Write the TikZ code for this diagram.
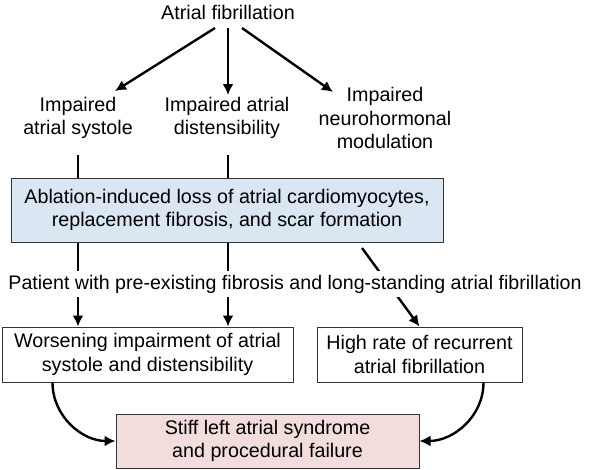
\documentclass[tikz,border=0pt]{standalone}
\usepackage{fontspec}
\setmainfont{Liberation Sans}
\usetikzlibrary{arrows.meta,calc}
\definecolor{ablblue}{HTML}{DAE6F2}
\definecolor{stiffpink}{HTML}{F2DDDC}
\begin{document}
\begin{tikzpicture}[x=1pt,y=-1pt,
  every node/.style={align=center,font=\fontsize{19.7}{23.5}\selectfont},
  box/.style={draw=black!80,line width=1pt,inner sep=0pt},
  arr/.style={line width=2.4pt,-{Latex[length=11pt,width=11pt]}},
  ln/.style={line width=2.4pt},
]
\useasboundingbox (0,0) rectangle (600,469);

\node (af) at (228,12) {Atrial fibrillation};
\node (sys) at (78,118) {Impaired\\atrial systole};
\node (dis) at (227,118) {Impaired atrial\\distensibility};
\node (neu) at (385,118) {Impaired\\neurohormonal\\modulation};

\node[box,fill=ablblue,minimum width=432pt,minimum height=64pt] (abl) at (227,210)
  {Ablation-induced loss of atrial cardiomyocytes,\\replacement fibrosis, and scar formation};
\node[box,minimum width=291pt,minimum height=55pt] (wors) at (147.5,354.5)
  {Worsening impairment of atrial\\systole and distensibility};
\node[box,minimum width=205pt,minimum height=55pt] (high) at (419.5,354.5)
  {High rate of recurrent\\atrial fibrillation};
\node[box,fill=stiffpink,minimum width=303pt,minimum height=54pt] (stiff) at (267.5,441)
  {Stiff left atrial syndrome\\and procedural failure};

% arrows from atrial fibrillation
\coordinate (a1) at (215,28);
\coordinate (a2) at (228,28);
\coordinate (a3) at (242,28);
\coordinate (t1) at (115,91);
\coordinate (t2) at (228,95);
\coordinate (t3) at (333,92);
\draw[arr] (a1) -- (t1);
\draw[arr] (a2) -- (t2);
\draw[arr] (a3) -- (t3);

% vertical lines
\coordinate (s1) at (78,155);
\coordinate (s2) at (228,155);
\draw[ln] (s1) -- (s1 |- abl.north);
\draw[ln] (s2) -- (s2 |- abl.north);
\draw[arr] (abl.south -| s1) -- (wors.north -| s1);
\draw[arr] (abl.south -| s2) -- (wors.north -| s2);
\coordinate (d1) at (362,248);
\draw[arr] (d1) -- (high.north);

\node[fill=white,inner xsep=2pt,inner ysep=4pt,font=\fontsize{19.6}{22}\selectfont] (pat) at (295,284)
  {Patient with pre-existing fibrosis and long-standing atrial fibrillation};

% curved arrows
\draw[arr] ([xshift=51pt]wors.south west) to[out=-90,in=180] (stiff.west);
\draw[arr] ([xshift=-39pt]high.south east) to[out=-90,in=0] (stiff.east);
\end{tikzpicture}
\end{document}
